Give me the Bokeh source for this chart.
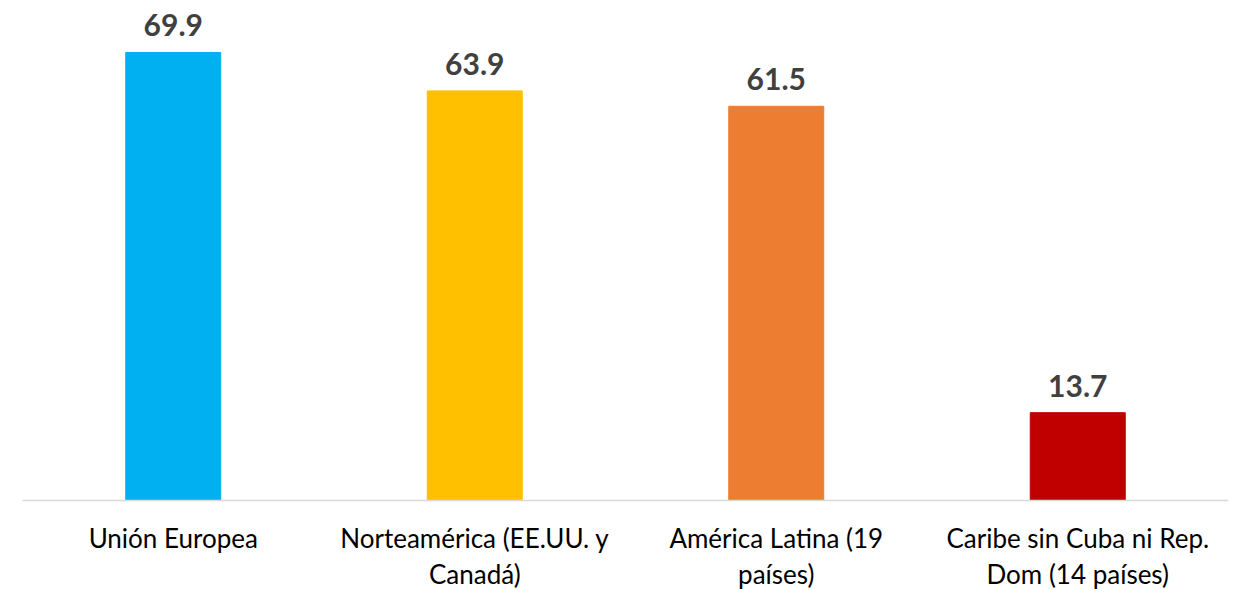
from bokeh.plotting import figure
from bokeh.models import FactorRange, Range1d, Span, ColumnDataSource
from bokeh.core.properties import value
from bokeh.embed import file_html
from bokeh.resources import INLINE

categories = ["Unión Europea", "Norteamérica (EE.UU. y Canadá)",
              "América Latina (19 países)", "Caribe sin Cuba ni Rep. Dom (14 países)"]
label_line1 = ["Unión Europea", "Norteamérica (EE.UU. y", "América Latina (19", "Caribe sin Cuba ni Rep."]
label_line2 = ["", "Canadá)", "países)", "Dom (14 países)"]
values = [69.9, 63.9, 61.5, 13.7]
colors = ["#00B0F0", "#FFC000", "#ED7D31", "#C00000"]

src = ColumnDataSource(dict(
    cat=categories, val=values, color=colors,
    vlab=[f"{v:.1f}" for v in values],
    l1=label_line1, l2=label_line2,
    zero=[0] * len(values),
))

scale = 6.41
p = figure(width=1240, height=589, output_backend="svg", toolbar_location=None,
           x_range=FactorRange(factors=categories, range_padding=0),
           y_range=Range1d(-89 / scale, 500 / scale),
           x_axis_location=None, y_axis_location=None,
           min_border_left=22, min_border_right=12, min_border_top=0, min_border_bottom=0)
p.outline_line_color = None
p.xgrid.visible = False
p.ygrid.visible = False
p.background_fill_color = "white"
p.border_fill_color = "white"

p.vbar(x="cat", top="val", bottom=0, width=0.315, color="color", source=src)
p.add_layout(Span(location=0, dimension="width", line_color="#D9D9D9", line_width=1.5))

p.text(x="cat", y="val", text="vlab", source=src, text_align="center",
       text_baseline="alphabetic", y_offset=-27, text_font=value("Lato"),
       text_font_style="bold", text_font_size="30px", text_color="#404040")
p.text(x="cat", y="zero", text="l1", source=src, text_align="center",
       text_baseline="alphabetic", y_offset=37, text_font=value("Lato"),
       text_font_size="26px", text_color="#000000")
p.text(x="cat", y="zero", text="l2", source=src, text_align="center",
       text_baseline="alphabetic", y_offset=73, text_font=value("Lato"),
       text_font_size="26px", text_color="#000000")

open("out.html", "w").write(file_html(p, INLINE))
